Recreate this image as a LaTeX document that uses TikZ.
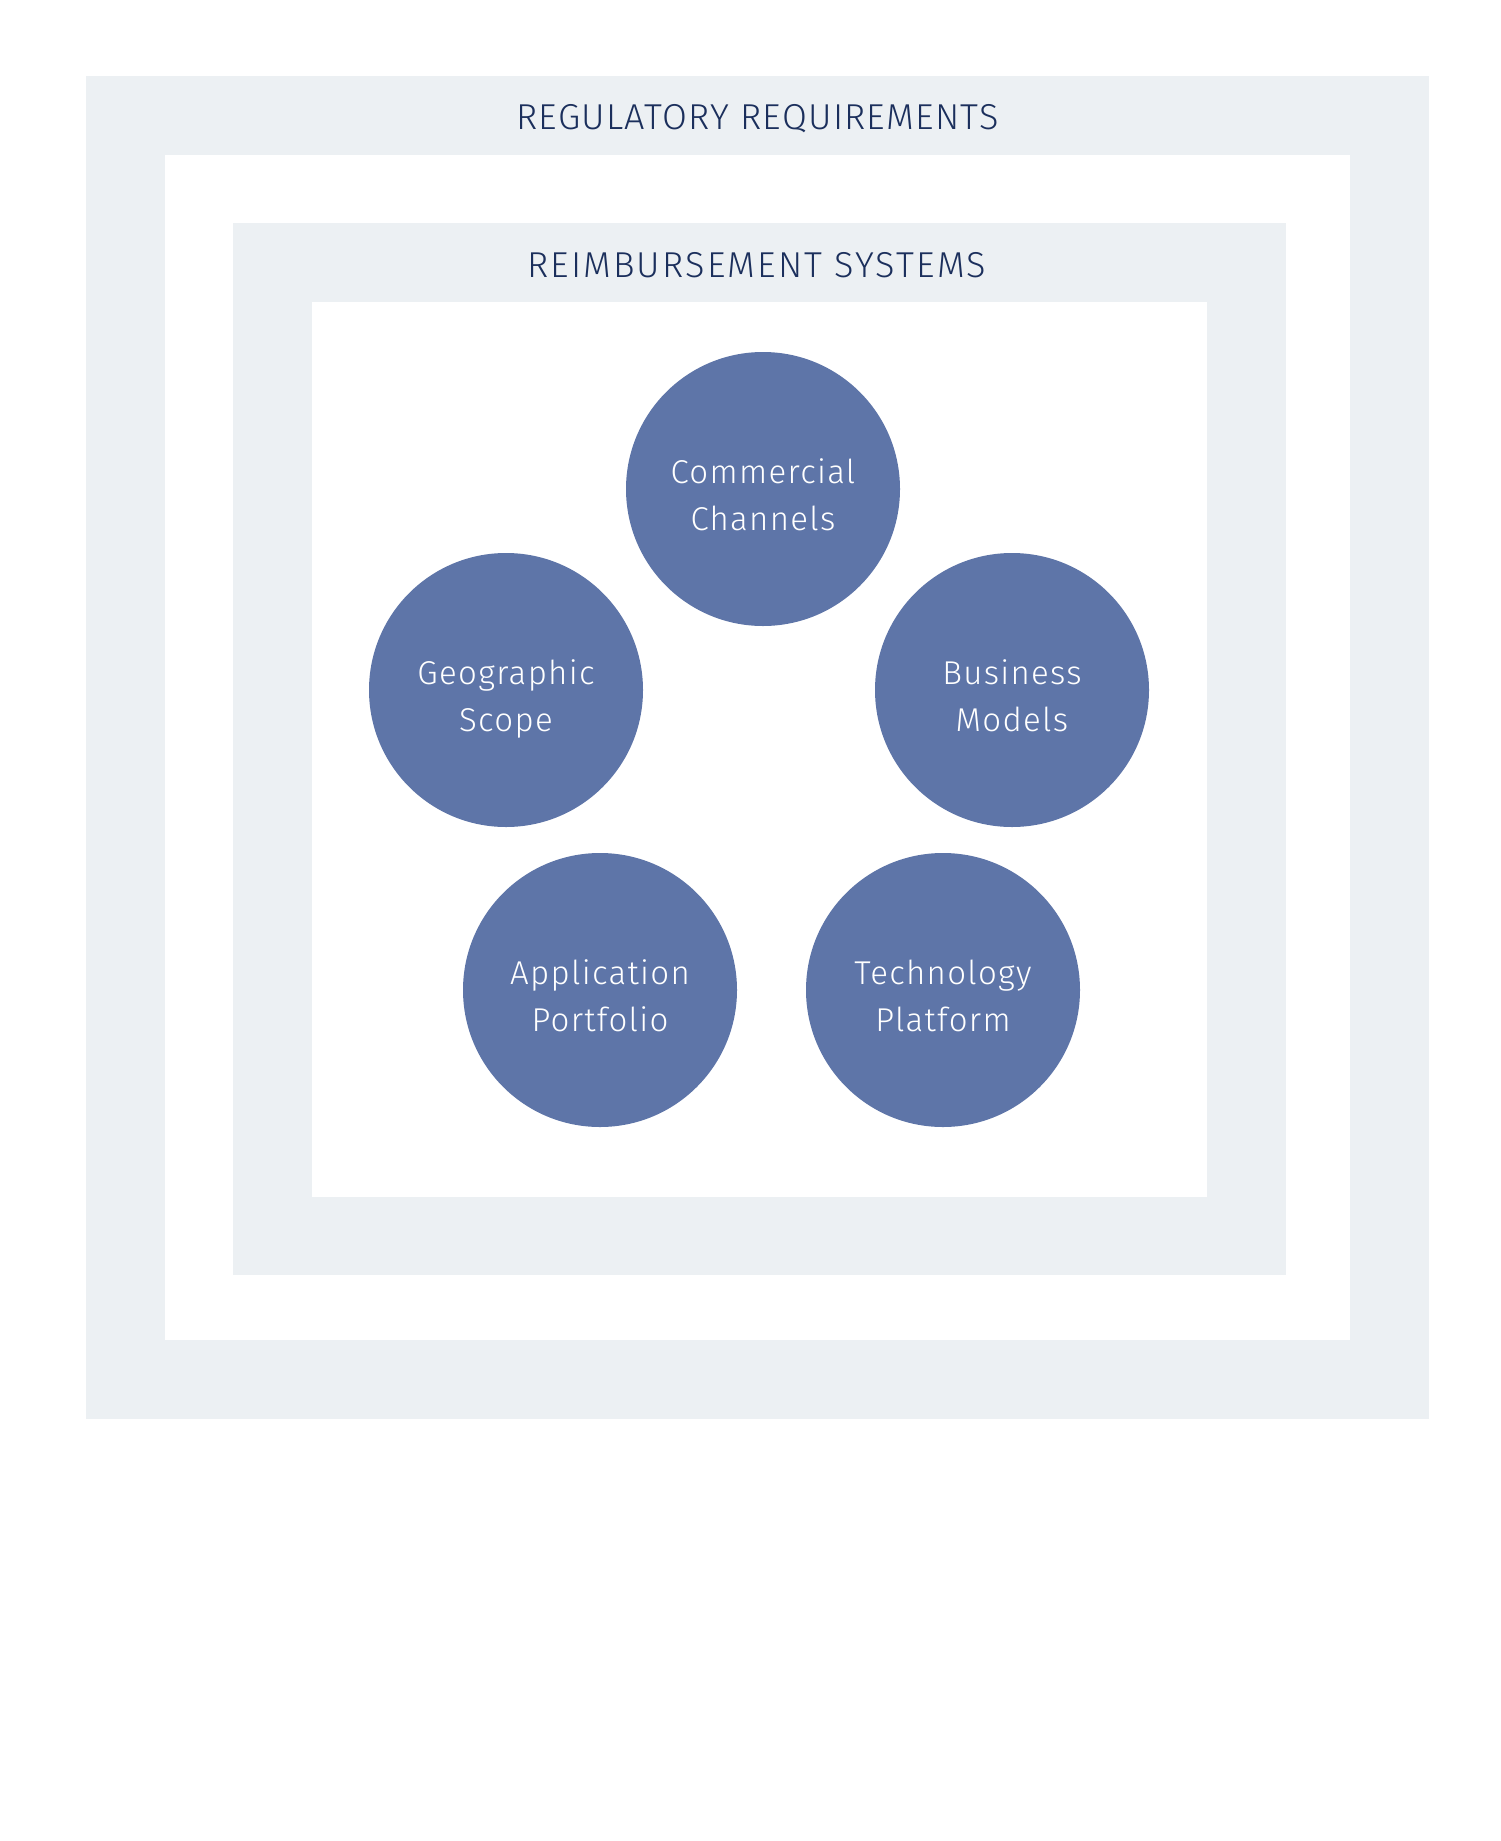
\documentclass[tikz,border=0pt]{standalone}
\usepackage{fontspec}
\setmainfont{Fira Sans Light}
\definecolor{bandgrey}{HTML}{ECF0F3}
\definecolor{bubbleblue}{HTML}{5E75A8}
\definecolor{titleblue}{HTML}{1B2F5C}
\begin{document}
\begin{tikzpicture}[x=0.5pt,y=-0.5pt,
    bubble/.style={circle,fill=bubbleblue,minimum size=137pt,inner sep=0pt,align=center,text=white,text height=41pt,text depth=0pt,font=\fontsize{16.5}{23.3}\selectfont\addfontfeature{LetterSpace=4}},
    heading/.style={anchor=base,text=titleblue,font=\fontsize{18}{22}\selectfont}]
        \useasboundingbox (0,0) rectangle (1500,1841);
        \fill[bandgrey](86,76)rectangle(1429,1419);
        \fill[white](165,155)rectangle(1350,1340);
        \fill[bandgrey](233,223)rectangle(1286,1275);
        \fill[white](312,302)rectangle(1207,1197);
        \node[heading,font=\fontsize{18}{22}\selectfont\addfontfeature{LetterSpace=3.5}](reg)at(757.5,130){REGULATORY REQUIREMENTS};
        \node[heading,font=\fontsize{18}{22}\selectfont\addfontfeature{LetterSpace=6}](reimb)at(756.5,277){REIMBURSEMENT SYSTEMS};
        \node[bubble](comm)at(763,489){Commercial\\Channels};
        \node[bubble](geo)at(506,690){Geographic\\Scope};
        \node[bubble](biz)at(1012,690){Business\\Models};
        \node[bubble](app)at(600,990){Application\\Portfolio};
        \node[bubble](tech)at(943,990){Technology\\Platform};
    \end{tikzpicture}
\end{document}
